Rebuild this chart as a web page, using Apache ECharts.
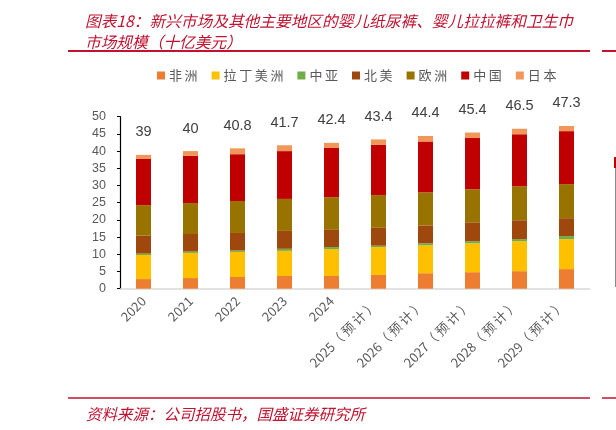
<!DOCTYPE html>
<html><head><meta charset="utf-8">
<script src="https://cdn.jsdelivr.net/npm/echarts@6/dist/echarts.min.js"></script>
<style>html,body{margin:0;padding:0;background:#fff}#c{width:616px;height:430px}</style>
</head><body><div id="c"></div>
<script>
var categories = ['2020','2021','2022','2023','2024','2025（预计）','2026（预计）','2027（预计）','2028（预计）','2029（预计）'];
var africa  = [2.8, 3.1, 3.4, 3.7, 3.7, 4.0, 4.5, 4.8, 5.1, 5.7];
var latin   = [7.0, 7.3, 7.3, 7.3, 7.8, 8.1, 8.1, 8.4, 8.7, 8.7];
var cAsia   = [0.4, 0.4, 0.4, 0.6, 0.6, 0.4, 0.6, 0.6, 0.6, 0.9];
var nAmer   = [5.2, 5.1, 5.1, 5.2, 5.0, 5.2, 5.2, 5.5, 5.5, 5.2];
var europe  = [8.9, 9.0, 9.3, 9.3, 9.5, 9.5, 9.6, 9.6, 9.9, 9.9];
var china   = [13.4, 13.7, 13.6, 13.9, 14.3, 14.6, 14.8, 14.9, 15.1, 15.4];
var japan   = [1.2, 1.4, 1.7, 1.7, 1.5, 1.6, 1.6, 1.6, 1.6, 1.5];
var totals  = ['39','40','40.8','41.7','42.4','43.4','44.4','45.4','46.5','47.3'];
var seriesNames = ['非洲','拉丁美洲','中亚','北美','欧洲','中国','日本'];
var colors = ['#ED7D31','#FFC000','#70AD47','#9E480E','#997300','#C00000','#F1975A'];
var values = [africa, latin, cAsia, nAmer, europe, china, japan];

var cjk = '"Noto Sans CJK SC", sans-serif';
var titleColor = '#C1132F';
var series = values.map(function(v, i){
  var s = {
    name: seriesNames[i], type: 'bar', stack: 'total', data: v,
    barWidth: 15, itemStyle: {color: colors[i]}
  };
  if (i === values.length - 1) {
    s.label = {
      show: true, position: 'top', distance: 15,
      formatter: function(p){ return totals[p.dataIndex]; },
      color: '#404040', fontSize: 14.5, fontFamily: '"Liberation Sans", Arial, sans-serif'
    };
  }
  return s;
});

var chart = echarts.init(document.getElementById('c'), null, {renderer: 'canvas'});
chart.setOption({
  animation: false,
  color: colors,
  title: [
    {text: '图表18：新兴市场及其他主要地区的婴儿纸尿裤、婴儿拉拉裤和卫生巾', left: 80, top: 8,
     textStyle: {color: titleColor, fontSize: 15.7, fontStyle: 'italic', fontWeight: 'normal', fontFamily: cjk}},
    {text: '市场规模（十亿美元）', left: 80, top: 29,
     textStyle: {color: titleColor, fontSize: 15.7, fontStyle: 'italic', fontWeight: 'normal', fontFamily: cjk}},
    {text: '资料来源：公司招股书，国盛证券研究所', left: 81, top: 401,
     textStyle: {color: titleColor, fontSize: 15.5, fontStyle: 'italic', fontWeight: 'normal', fontFamily: cjk}}
  ],
  legend: {
    top: 64, left: 152, itemWidth: 8, itemHeight: 8, itemGap: 14, icon: 'rect',
    data: seriesNames,
    formatter: function(n){ return n.split('').join('\u2009'); },
    textStyle: {color: '#595959', fontSize: 13, fontFamily: cjk, padding: [0,0,0,-1]}
  },
  grid: {left: 120, right: 26, top: 116.7, bottom: 141.3, containLabel: false},
  xAxis: {
    type: 'category', data: categories,
    axisLine: {lineStyle: {color: '#D9D9D9', width: 1.5}},
    axisTick: {show: false},
    axisLabel: {rotate: 45, margin: 10, color: '#595959', fontSize: 13, fontFamily: cjk, interval: 0,
      formatter: function(v){
        var i = v.indexOf('（');
        if (i < 0) return v;
        return v.slice(0, i) + v.slice(i).split('').join('\u2009') + '\u2009\u2009';
      }}
  },
  yAxis: {
    type: 'value', min: 0, max: 50, interval: 5,
    axisLine: {show: true, lineStyle: {color: '#000', width: 1.2}},
    axisTick: {show: true, length: 3, lineStyle: {color: '#000'}},
    splitLine: {show: false},
    axisLabel: {margin: 14, color: '#595959', fontSize: 12.5, fontFamily: '"Liberation Sans", Arial, sans-serif'}
  },
  graphic: [
    {type: 'line', shape: {x1: 68, y1: 51, x2: 590, y2: 51}, style: {stroke: titleColor, lineWidth: 2}},
    {type: 'line', shape: {x1: 602, y1: 51, x2: 616, y2: 51}, style: {stroke: titleColor, lineWidth: 2}},
    {type: 'line', shape: {x1: 68, y1: 398, x2: 590, y2: 398}, style: {stroke: titleColor, lineWidth: 1.5}},
    {type: 'line', shape: {x1: 602, y1: 398, x2: 616, y2: 398}, style: {stroke: titleColor, lineWidth: 1.5}},
    {type: 'line', shape: {x1: 615.5, y1: 157, x2: 615.5, y2: 287}, style: {stroke: '#888', lineWidth: 1}},
    {type: 'rect', shape: {x: 614, y: 157, width: 2, height: 11}, style: {fill: '#C00000'}}
  ],
  series: series
});
</script>
</body></html>
